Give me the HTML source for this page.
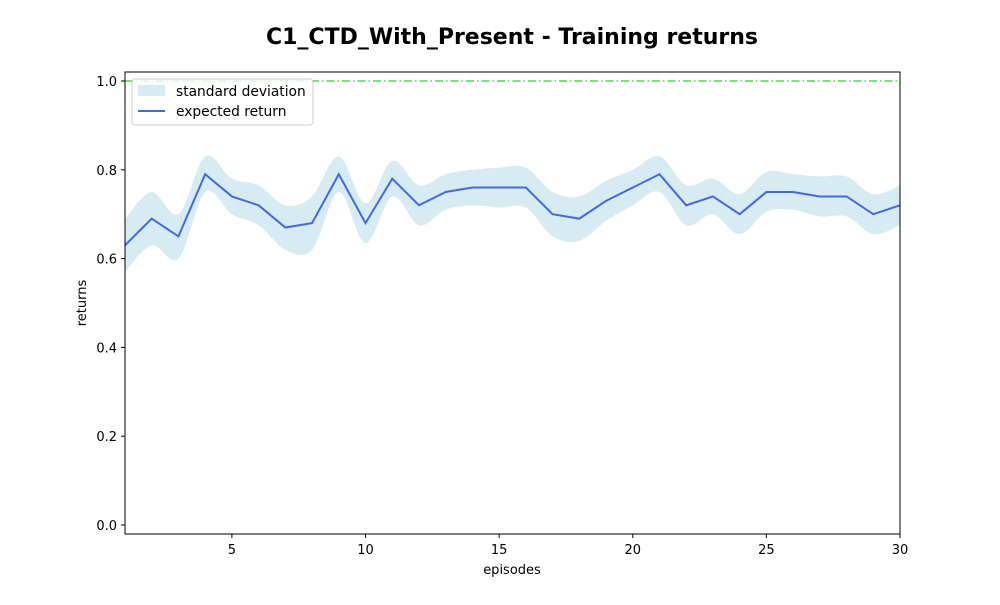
<!DOCTYPE html>
<html><head><meta charset="utf-8"><style>
body{margin:0;background:#fff;font-family:"Liberation Sans","DejaVu Sans",sans-serif}
</style></head><body>
<svg width="1000" height="600" xmlns="http://www.w3.org/2000/svg" font-family="DejaVu Sans, Liberation Sans, sans-serif">
<text x="512" y="44" text-anchor="middle" font-size="22" font-weight="bold">C1_CTD_With_Present - Training returns</text>
<g id="plot"></g>
<rect x="125" y="72" width="775" height="462" fill="none" stroke="#000" stroke-width="1"/>
<text x="512" y="574" text-anchor="middle" font-size="13">episodes</text>
<text x="86" y="303" text-anchor="middle" font-size="13" transform="rotate(-90 86 303)">returns</text>
<g>
<rect x="132" y="79" width="181" height="46" fill="#fff" fill-opacity="0.8" stroke="#ccc" rx="3"/>
<rect x="138" y="85" width="27" height="11" fill="#add8e6" fill-opacity="0.5"/>
<text x="176" y="96" font-size="13.8">standard deviation</text>
<line x1="138" y1="111" x2="165" y2="111" stroke="#4169e1" stroke-width="2"/>
<text x="176" y="116" font-size="13.8">expected return</text>
</g>
</svg>
<script>
const episodes=[1,2,3,4,5,6,7,8,9,10,11,12,13,14,15,16,17,18,19,20,21,22,23,24,25,26,27,28,29,30];
const meanReturns=[0.63,0.69,0.65,0.79,0.74,0.72,0.67,0.68,0.79,0.68,0.78,0.72,0.75,0.76,0.76,0.76,0.70,0.69,0.73,0.76,0.79,0.72,0.74,0.70,0.75,0.75,0.74,0.74,0.70,0.72];
const stdReturns=[0.06,0.06,0.05,0.04,0.04,0.045,0.05,0.06,0.04,0.045,0.04,0.045,0.04,0.04,0.045,0.045,0.05,0.05,0.045,0.04,0.04,0.045,0.04,0.045,0.045,0.04,0.045,0.045,0.045,0.045];
const xTicks=[5,10,15,20,25,30];
const yTicks=[0.0,0.2,0.4,0.6,0.8,1.0];
const target=1.0;
const NS='http://www.w3.org/2000/svg';
const X0=125,X1=900,Y0=525,Y1=81;
const sx=v=>X0+(v-1)/(30-1)*(X1-X0);
const sy=v=>Y0-(v-0)/(1-0)*(Y0-Y1);
const g=document.getElementById('plot');
function mk(t,a){const e=document.createElementNS(NS,t);for(const k in a)e.setAttribute(k,a[k]);g.appendChild(e);return e;}
function smooth(pts){let d='M'+pts[0][0]+','+pts[0][1];for(let i=0;i<pts.length-1;i++){const p0=pts[i-1]||pts[i],p1=pts[i],p2=pts[i+1],p3=pts[i+2]||p2;d+=' C'+(p1[0]+(p2[0]-p0[0])/6)+','+(p1[1]+(p2[1]-p0[1])/6)+' '+(p2[0]-(p3[0]-p1[0])/6)+','+(p2[1]-(p3[1]-p1[1])/6)+' '+p2[0]+','+p2[1];}return d;}
const up=episodes.map((e,i)=>[sx(e),sy(meanReturns[i]+stdReturns[i])]);
const lo=episodes.map((e,i)=>[sx(e),sy(meanReturns[i]-stdReturns[i])]).reverse();
const band=mk('path',{d:smooth(up)+' L'+lo[0][0]+','+lo[0][1]+smooth(lo).replace(/^M[^ ]+/,'')+' Z',fill:'#add8e6',"fill-opacity":0.5});


const tl=mk('line',{x1:X0,x2:X1,y1:sy(target),y2:sy(target),stroke:'#32cd32',"stroke-width":1.2,"stroke-dasharray":"8,3,1.5,3"});


const ln=mk('polyline',{points:episodes.map((e,i)=>sx(e)+','+sy(meanReturns[i])).join(' '),fill:'none',stroke:'#4169e1',"stroke-width":2});


xTicks.forEach(t=>{const x=sx(t);mk('line',{x1:x,x2:x,y1:534,y2:538,stroke:'#000'});const tx=mk('text',{x:x,y:554,"text-anchor":"middle","font-size":13});tx.textContent=t;

});
yTicks.forEach(t=>{const y=sy(t);mk('line',{x1:121,x2:125,y1:y,y2:y,stroke:'#000'});const tx=mk('text',{x:117,y:y+5,"text-anchor":"end","font-size":13});tx.textContent=t.toFixed(1);

});
</script>
</body></html>
